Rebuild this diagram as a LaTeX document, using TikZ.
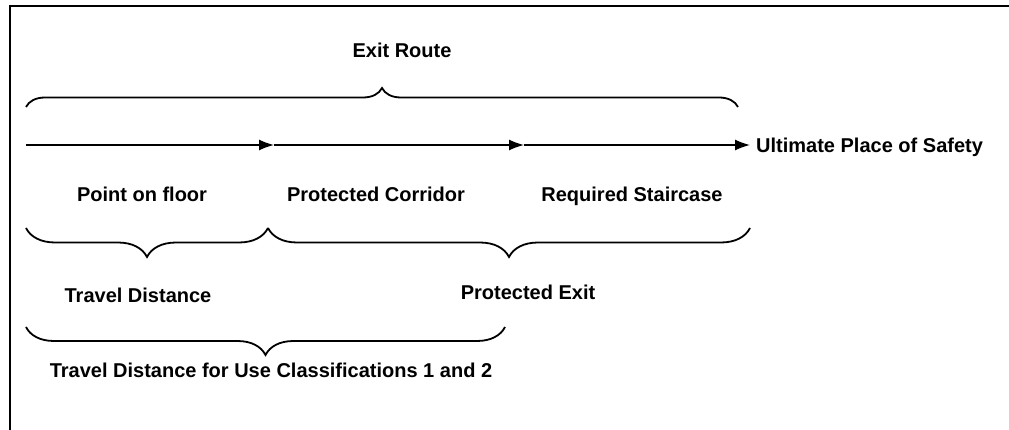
\documentclass[tikz,border=0pt]{standalone}
\usepackage{fontspec}
\setmainfont{Liberation Sans}
\usetikzlibrary{decorations.pathreplacing,arrows.meta}
\begin{document}
\begin{tikzpicture}[x=1pt,y=-1pt,
  lbl/.style={font=\fontsize{20}{24}\selectfont\bfseries, inner sep=0pt, anchor=base},
  bracestyle/.style={line width=1.8pt, decorate, decoration={brace, amplitude=#1}},
  flow/.style={line width=1.4pt, -{Latex[length=15pt,width=11pt]}},
  frameline/.style={line width=2pt}]
\useasboundingbox (0,0) rectangle (1009,430);
\coordinate (fTL) at (10,6);
\coordinate (fTR) at (1009,6);
\coordinate (fBL) at (10,430);
\draw[frameline] (fBL) -- (fTL) -- (fTR);

% labels
\node[lbl] (exit) at (402,58) {Exit Route};
\node[lbl] (pof) at (142,202) {Point on floor};
\node[lbl] (pc) at (376,202) {Protected Corridor};
\node[lbl] (rs) at (632,202) {Required Staircase};
\node[lbl, anchor=base west] (ups) at (756,153) {Ultimate Place of Safety};
\node[lbl] (td) at (138,302) {Travel Distance};
\node[lbl] (pe) at (528,300) {Protected Exit};
\node[lbl] (tdu) at (271,377) {Travel Distance for Use Classifications 1 and 2};

% arrow line
\coordinate (a0) at (26,145);
\coordinate (a1) at (274,145);
\coordinate (a2) at (524,145);
\coordinate (a3) at (750,145);
\draw[flow] (a0) -- (a1);
\draw[flow] (a1) -- (a2);
\draw[flow] (a2) -- (a3);

% braces
\coordinate (tb0) at (26,107);
\coordinate (tb1) at (738,107);
\draw[bracestyle=19pt] (tb0) -- (tb1);

\coordinate (b1r) at (268,228);
\coordinate (b1l) at (26,228);
\draw[bracestyle=29pt] (b1r) -- (b1l);

\coordinate (b2r) at (750,228);
\coordinate (b2l) at (268,228);
\draw[bracestyle=29pt] (b2r) -- (b2l);

\coordinate (b3r) at (505,327);
\coordinate (b3l) at (26,327);
\draw[bracestyle=28pt] (b3r) -- (b3l);
\end{tikzpicture}
\end{document}
